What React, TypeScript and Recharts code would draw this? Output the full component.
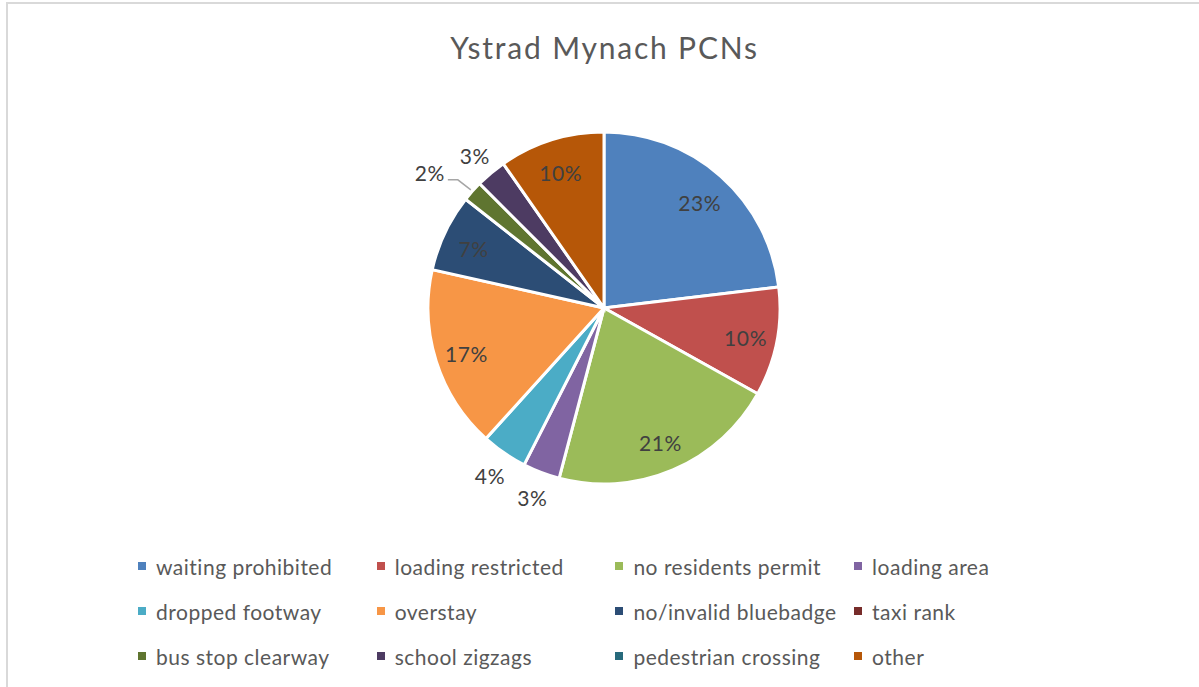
import React from "react";
import { PieChart, Pie, Cell, Legend } from "recharts";

const categories = [
  "waiting prohibited",
  "loading restricted",
  "no residents permit",
  "loading area",
  "dropped footway",
  "overstay",
  "no/invalid bluebadge",
  "taxi rank",
  "bus stop clearway",
  "school zigzags",
  "pedestrian crossing",
  "other",
];

// share of PCNs (%)
const shares = [23.1, 10.0, 21.0, 3.4, 4.2, 16.8, 7.1, 0, 1.9, 2.8, 0, 9.7];

const colors = [
  "#4F81BD", "#C0504D", "#9BBB59", "#8064A2", "#4BACC6", "#F79646",
  "#2C4D75", "#772C2A", "#5F7530", "#4D3B62", "#276A7C", "#B65708",
];

const title = "Ystrad Mynach PCNs";

const data = categories.map((name, i) => ({ name, value: shares[i] }));

const FONT = "Lato, 'Open Sans', sans-serif";
const RAD = Math.PI / 180;

const renderLabel = (props: any) => {
  const { cx, cy, midAngle, outerRadius, percent, index } = props;
  if (!percent) return null;
  const txt = `${Math.round(percent * 100)}%`;
  const cos = Math.cos(-midAngle * RAD);
  const sin = Math.sin(-midAngle * RAD);
  const style = { fontFamily: FONT, fontSize: 21, fill: "#404040", letterSpacing: 0.6 };

  if (percent < 0.025) {
    // tiny slice: leader line out to the label
    const ex = cx + (outerRadius + 2) * cos;
    const ey = cy + (outerRadius + 2) * sin;
    const bx = ex - 13;
    const by = ey - 10;
    const lx = bx - 10;
    return (
      <g key={`lbl-${index}`}>
        <polyline points={`${ex},${ey} ${bx},${by} ${lx},${by}`} fill="none" stroke="#a6a6a6" strokeWidth={1.5} />
        <text x={lx - 3} y={by - 7} textAnchor="end" dominantBaseline="central" style={style}>
          {txt}
        </text>
      </g>
    );
  }

  const r = percent < 0.05 ? outerRadius + 25 : outerRadius * 0.82;
  return (
    <text
      key={`lbl-${index}`}
      x={cx + r * cos}
      y={cy + r * sin + 2}
      textAnchor="middle"
      dominantBaseline="central"
      style={style}
    >
      {txt}
    </text>
  );
};

const renderLegend = () => (
  <div style={{ position: "relative", width: 1199, height: 130 }}>
    {categories.map((name, i) => {
      const col = i % 4;
      const row = Math.floor(i / 4);
      return (
        <div
          key={name}
          style={{
            position: "absolute",
            left: 138 + col * 238.7,
            top: row * 45,
            height: 30,
            display: "flex",
            alignItems: "center",
            whiteSpace: "nowrap",
          }}
        >
          <span style={{ width: 8, height: 8, background: colors[i], display: "inline-block", marginRight: 10 }} />
          <span style={{ fontFamily: FONT, fontSize: 21, color: "#595959", letterSpacing: 0.5 }}>{name}</span>
        </div>
      );
    })}
  </div>
);

export default function App() {
  return (
    <div style={{ position: "absolute", left: 0, top: 0, width: 1199, height: 687, background: "#fff", overflow: "hidden" }}>
      <div
        style={{
          position: "absolute",
          left: 6,
          top: 2,
          width: 1220,
          height: 720,
          border: "2px solid #d9d9d9",
          boxSizing: "border-box",
        }}
      />
      <div
        style={{
          position: "absolute",
          left: 0,
          width: 1209,
          top: 28,
          textAlign: "center",
          fontFamily: FONT,
          fontSize: 30,
          color: "#595959",
          lineHeight: "38px",
          letterSpacing: 1.8,
        }}
      >
        {title}
      </div>
      <PieChart width={1199} height={687} margin={{ top: 0, right: 0, bottom: 0, left: 0 }} style={{ position: "absolute", left: 0, top: 0 }}>
        <Pie
          data={data}
          dataKey="value"
          nameKey="name"
          cx={604}
          cy={308}
          outerRadius={176}
          startAngle={90}
          endAngle={-270}
          stroke="#ffffff"
          strokeWidth={3}
          label={renderLabel}
          labelLine={false}
          isAnimationActive={false}
        >
          {data.map((d, i) => (
            <Cell key={d.name} fill={colors[i]} />
          ))}
        </Pie>
        <Legend content={renderLegend} wrapperStyle={{ position: "absolute", left: 0, top: 551, width: 1199 }} />
      </PieChart>
    </div>
  );
}
